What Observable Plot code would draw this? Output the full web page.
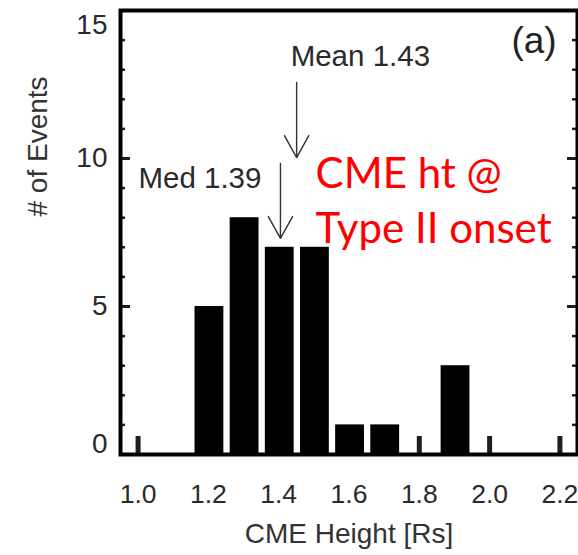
<!DOCTYPE html>
<html><head><meta charset="utf-8">
<script src="https://cdn.jsdelivr.net/npm/d3@7"></script>
<script src="https://cdn.jsdelivr.net/npm/@observablehq/plot@0.6"></script>
<style>html,body{margin:0;padding:0;background:#fff}svg{display:block}</style>
</head><body><div id="chart"></div>
<script>
// ---- data ----
const binCenters = [1.2, 1.3, 1.4, 1.5, 1.6, 1.7, 1.9];   // CME height [Rs]
const binCounts  = [5, 8, 7, 7, 1, 1, 3];                  // # of events
const xTicks = [1.0, 1.2, 1.4, 1.6, 1.8, 2.0, 2.2];
const yMajorTicks = [0, 5, 10, 15];
const yMinorTicks = [0, 1, 2, 3, 4, 5, 6, 7, 8, 9, 10, 11, 12, 13, 14, 15];
const statNames = ["Med", "Mean"];
const statValues = [1.39, 1.43];
const noteLines = ["CME ht @", "Type II onset"];
const panelLabel = "(a)";

// ---- annotation anchors (data coordinates) ----
const statLabelX = [1.001, 1.434];
const statLabelY = [8.99, 13.14];
const arrowX   = [1.405, 1.451];
const arrowTop = [9.83, 12.57];
const arrowTip = [7.30, 10.03];
const noteX = 1.505;
const noteY = [9.0, 7.13];
const panelX = 2.062, panelY = 13.55;

// ---- layout ----
const W = 578, H = 555, mL = 120, mR = 1, mT = 10, mB = 101;
const xDom = [0.95, 2.25], yDom = [0, 15];
const pxX = (xDom[1] - xDom[0]) / (W - mL - mR);
const pxY = (yDom[1] - yDom[0]) / (H - mT - mB);
const binHalf = 0.041;
const ink = "#1e1e1e";

const bars = binCenters.map((c, i) => ({c, n: binCounts[i]}));
const stats = statNames.map((s, i) => ({
  label: `${s} ${statValues[i].toFixed(2)}`,
  lx: statLabelX[i], ly: statLabelY[i],
  ax: arrowX[i], top: arrowTop[i], tip: arrowTip[i]
}));
const notes = noteLines.map((t, i) => ({t, x: noteX, y: noteY[i]}));
const minorOnly = yMinorTicks.filter(v => !yMajorTicks.includes(v));

const chart = Plot.plot({
  width: W, height: H,
  marginLeft: mL, marginRight: mR, marginTop: mT, marginBottom: mB,
  x: {domain: xDom, label: null},
  y: {domain: yDom, label: null},
  style: {fontFamily: "'Liberation Sans', Arial, sans-serif", background: "#fff", color: ink},
  marks: [
    // bottom inward ticks
    Plot.ruleX(xTicks, {x: d => d, y1: 0, y2: 18 * pxY, stroke: ink, strokeWidth: 5}),
    // histogram bars
    Plot.rectY(bars, {x1: d => d.c - binHalf + 0.003, x2: d => d.c + binHalf + 0.003, y1: 0, y2: "n", fill: "#000"}),
    // left/right inward y ticks
    Plot.ruleY(minorOnly, {y: d => d, x1: xDom[0], x2: xDom[0] + 5 * pxX, stroke: ink, strokeWidth: 2.5}),
    Plot.ruleY(minorOnly, {y: d => d, x1: xDom[1] - 5 * pxX, x2: xDom[1], stroke: ink, strokeWidth: 2.5}),
    Plot.ruleY(yMajorTicks, {y: d => d, x1: xDom[0], x2: xDom[0] + 10 * pxX, stroke: ink, strokeWidth: 3}),
    Plot.ruleY(yMajorTicks, {y: d => d, x1: xDom[1] - 10 * pxX, x2: xDom[1], stroke: ink, strokeWidth: 3}),
    Plot.frame({stroke: "#000", strokeWidth: 4}),
    // y tick labels
    Plot.axisY([5, 10], {anchor: "left", tickSize: 0, tickPadding: 13, fontSize: 28, label: null, fill: "#2a2a2a"}),
    Plot.axisY([15], {anchor: "left", tickSize: 0, tickPadding: 13, fontSize: 28, label: null, dy: 15, fill: "#2a2a2a"}),
    Plot.axisY([0], {anchor: "left", tickSize: 0, tickPadding: 13, fontSize: 28, label: null, dy: -10, fill: "#2a2a2a"}),
    // x tick labels
    Plot.axisX(xTicks, {anchor: "bottom", tickSize: 0, tickPadding: 30, fontSize: 26.5, label: null,
      tickFormat: d => d.toFixed(1), fill: "#2a2a2a"}),
    // axis titles
    Plot.text(["# of Events"], {frameAnchor: "left", rotate: -90, dx: -82, dy: -16, fontSize: 28, fill: "#333"}),
    Plot.text(["CME Height [Rs]"], {frameAnchor: "bottom", dy: 88, lineAnchor: "bottom", fontSize: 28, fill: "#333"}),
    // mean / median arrows + labels
    Plot.arrow(stats, {x1: "ax", y1: "top", x2: "ax", y2: "tip", headLength: 39, headAngle: 58, stroke: "#333", strokeWidth: 1.4}),
    Plot.text(stats, {x: "lx", y: "ly", text: "label", textAnchor: "start", lineAnchor: "bottom", fontSize: 29.5, fill: "#2a2a2a"}),
    // panel label
    Plot.text([panelLabel], {x: panelX, y: panelY, textAnchor: "start", lineAnchor: "bottom", fontSize: 37, fill: "#222"}),
    // red note
    Plot.text(notes, {x: "x", y: "y", text: "t", textAnchor: "start", lineAnchor: "bottom", fontSize: 42,
      fill: "#ff0000", fontFamily: "Lato, 'Open Sans', sans-serif"})
  ]
});
document.getElementById("chart").append(chart);
</script>
</body></html>
